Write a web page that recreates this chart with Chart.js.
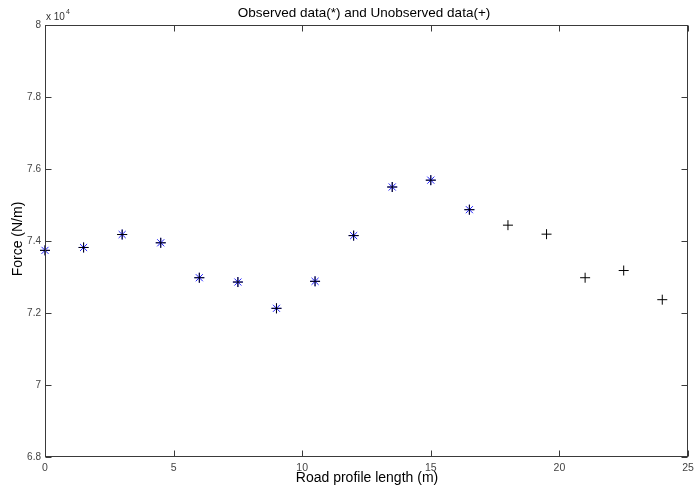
<!DOCTYPE html>
<html>
<head>
<meta charset="utf-8">
<script src="https://cdn.jsdelivr.net/npm/chart.js@4.4.1/dist/chart.umd.min.js"></script>
<style>
  html, body { margin: 0; padding: 0; background: #fff; }
  #wrap { width: 694px; height: 491px; }
</style>
</head>
<body>
<div id="wrap"><canvas id="forceChart"></canvas></div>
<script>
// road position (m) and force (x 10^4 N/m)
const observedX = [0, 1.5, 3, 4.5, 6, 7.5, 9, 10.5, 12, 13.5, 15, 16.5];
const observedForce = [7.374, 7.382, 7.418, 7.395, 7.298, 7.286, 7.213, 7.288, 7.415, 7.550, 7.569, 7.487];
const unobservedX = [18, 19.5, 21, 22.5, 24];
const unobservedForce = [7.444, 7.419, 7.298, 7.318, 7.237];

const xTicks = [0, 5, 10, 15, 20, 25];
const yTicks = [6.8, 7, 7.2, 7.4, 7.6, 7.8, 8];

function toPoints(xs, ys) {
  return xs.map((x, i) => ({ x: x, y: ys[i] }));
}

const fontName = "'Liberation Sans', Arial, sans-serif";

// box, inward ticks and the text around the axes (matlab look)
const matlabFrame = {
  id: 'matlabFrame',
  afterDraw(chart) {
    const ctx = chart.ctx;
    const area = chart.chartArea;
    const xs = chart.scales.x, ys = chart.scales.y;
    const l = Math.round(area.left) + 0.5, r = Math.round(area.right) - 0.5;
    const t = Math.round(area.top) + 0.5, b = Math.round(area.bottom) - 0.5;
    const tick = 6;
    ctx.save();
    ctx.strokeStyle = '#3a3a3a';
    ctx.lineWidth = 1;
    ctx.strokeRect(l, t, r - l, b - t);
    ctx.beginPath();
    xTicks.forEach(v => {
      const px = Math.round(xs.getPixelForValue(v)) + 0.5;
      ctx.moveTo(px, b); ctx.lineTo(px, b - tick);
      ctx.moveTo(px, t); ctx.lineTo(px, t + tick);
    });
    yTicks.forEach(v => {
      const py = Math.round(ys.getPixelForValue(v)) + 0.5;
      ctx.moveTo(l, py); ctx.lineTo(l + tick, py);
      ctx.moveTo(r, py); ctx.lineTo(r - tick, py);
    });
    ctx.stroke();

    ctx.fillStyle = '#000';
    ctx.textAlign = 'center';
    ctx.textBaseline = 'middle';
    ctx.font = '13.5px ' + fontName;
    ctx.fillText('Observed data(*) and Unobserved data(+)', 364, 13);
    ctx.font = '14px ' + fontName;
    ctx.fillText('Road profile length (m)', 367, 478);
    ctx.save();
    ctx.translate(18, 239);
    ctx.rotate(-Math.PI / 2);
    ctx.fillText('Force (N/m)', 0, 0);
    ctx.restore();

    // exponent label
    ctx.fillStyle = '#333';
    ctx.textAlign = 'left';
    ctx.textBaseline = 'alphabetic';
    ctx.font = '10px ' + fontName;
    ctx.fillText('x 10', 46, 20);
    ctx.font = '7px ' + fontName;
    ctx.fillText('4', 66, 14);
    ctx.restore();
  }
};

const ctx = document.getElementById('forceChart').getContext('2d');
const forceChart = new Chart(ctx, {
  type: 'scatter',
  data: {
    datasets: [
      {
        label: 'observed +',
        data: toPoints(observedX, observedForce),
        pointStyle: 'cross',
        pointRadius: 5,
        borderColor: '#000',
        borderWidth: 1,
        clip: false,
        order: 0
      },
      {
        label: 'observed *',
        data: toPoints(observedX, observedForce),
        pointStyle: 'star',
        pointRadius: 5,
        borderColor: '#2020ff',
        borderWidth: 1,
        clip: false,
        order: 1
      },
      {
        label: 'unobserved',
        data: toPoints(unobservedX, unobservedForce),
        pointStyle: 'cross',
        pointRadius: 5,
        borderColor: '#000',
        borderWidth: 1,
        clip: false,
        order: 0
      }
    ]
  },
  options: {
    responsive: true,
    maintainAspectRatio: false,
    animation: false,
    layout: { padding: { top: 25, right: 4, left: 0, bottom: 0 } },
    plugins: {
      legend: { display: false },
      tooltip: { enabled: false },
      title: { display: false }
    },
    scales: {
      x: {
        type: 'linear',
        min: 0,
        max: 25,
        afterBuildTicks: s => { s.ticks = xTicks.map(v => ({ value: v })); },
        afterFit: s => { s.height = 34; s.paddingRight = 0; s.paddingLeft = 0; },
        grid: { display: false, drawTicks: false },
        border: { display: false },
        ticks: {
          maxRotation: 0,
          padding: 5,
          color: '#444',
          font: { family: fontName, size: 10.5 },
          callback: v => String(v)
        }
      },
      y: {
        type: 'linear',
        min: 6.8,
        max: 8,
        afterBuildTicks: s => { s.ticks = yTicks.map(v => ({ value: v })); },
        afterFit: s => { s.width = 45; },
        grid: { display: false, drawTicks: false },
        border: { display: false },
        ticks: {
          padding: 4,
          color: '#444',
          font: { family: fontName, size: 10 },
          callback: v => String(Number(v.toFixed(1)))
        }
      }
    }
  },
  plugins: [matlabFrame]
});
</script>
</body>
</html>
